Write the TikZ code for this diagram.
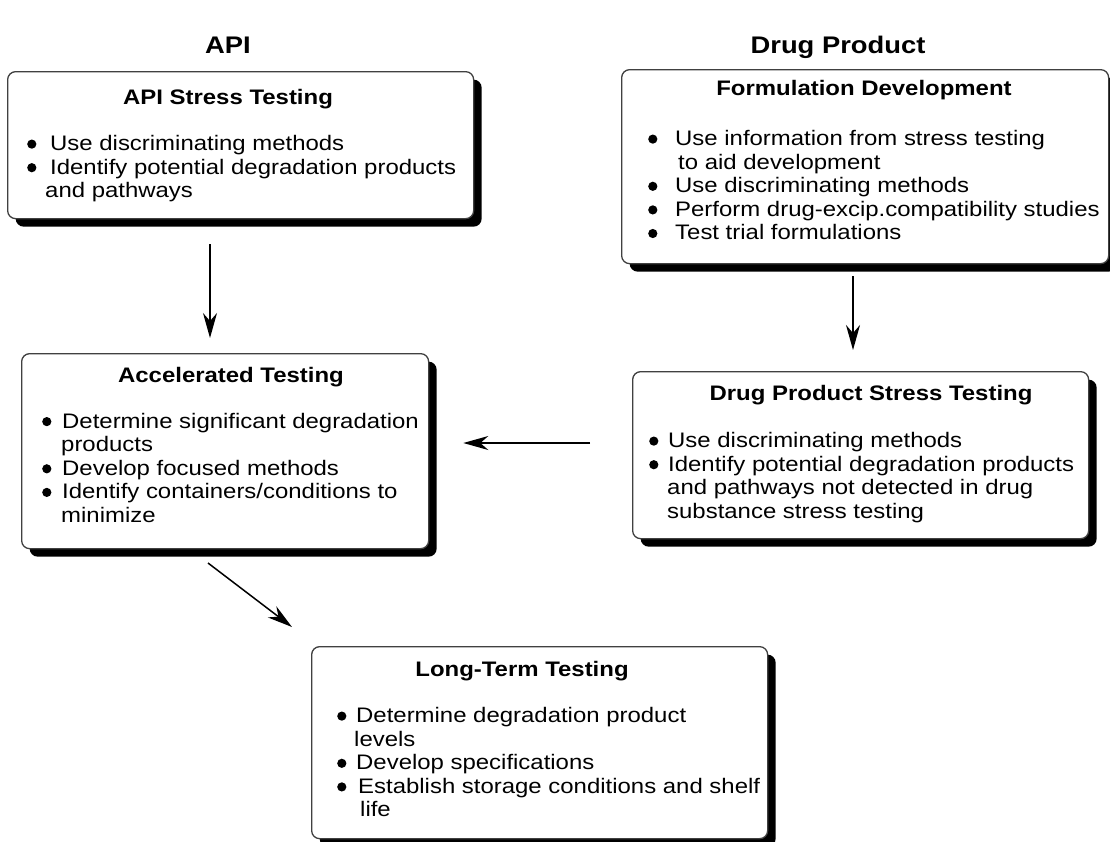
\documentclass[tikz,border=0pt]{standalone}
\usepackage{fontspec}
\setmainfont{Liberation Sans}[FakeStretch=1.14]
\usetikzlibrary{shadows,arrows.meta,calc}
\newcommand\mybul[1]{\makebox[#1][l]{\raisebox{1.8pt}{\tikz\fill[black] (0pt,0pt) circle[radius=4.6pt];}}}
\tikzset{
  box/.style={draw=black!75, line width=1.3pt, rounded corners=8pt, fill=white,
    anchor=north west, inner sep=0pt,
    drop shadow={shadow xshift=8pt, shadow yshift=-8pt, opacity=1, fill=black}},
  header/.style={font=\fontsize{24}{28}\selectfont\bfseries, anchor=base, inner sep=0pt},
  title/.style={font=\fontsize{21}{24}\selectfont\bfseries, anchor=base, inner sep=0pt},
  body/.style={font=\fontsize{21}{23.6}\selectfont, anchor=base west, align=left, inner sep=0pt},
  arr/.style={line width=1.5pt, -{Stealth[length=25pt,width=14pt,inset=8pt]}}
}
\begin{document}
\begin{tikzpicture}[x=1pt,y=-1pt]
\useasboundingbox (0,0) rectangle (1110,841);

% headers
\node[header] (hapi) at (228,53.5) {API};
\node[header] (hdp) at (838,53.5) {Drug Product};

% boxes
\node[box, minimum width=466pt, minimum height=147pt] (b1) at (7,71) {};
\node[box, minimum width=487pt, minimum height=194pt] (b2) at (621,69) {};
\node[box, minimum width=407pt, minimum height=195pt] (b3) at (21,353) {};
\node[box, minimum width=456pt, minimum height=167pt] (b4) at (632,371) {};
\node[box, minimum width=456pt, minimum height=192pt] (b5) at (311,646) {};

% box 1 (anchor = baseline of the last line)
\node[title] (t1) at (228,104.5) {API Stress Testing};
\node[body] (l1) at (27,197.7) {\mybul{23pt}Use discriminating methods\\
\mybul{23pt}Identify potential degradation products\\
\hspace*{18pt}and pathways};

% box 2
\node[title] (t2) at (864,95.5) {Formulation Development};
\node[body] (l2) at (648,239.9) {\mybul{27pt}Use information from stress testing\\
\hspace*{30pt}to aid development\\
\mybul{27pt}Use discriminating methods\\
\mybul{27pt}Perform drug-excip.compatibility studies\\
\mybul{27pt}Test trial formulations};

% box 3
\node[title] (t3) at (231,382.5) {Accelerated Testing};
\node[body] (l3) at (42,522.4) {\mybul{20pt}Determine significant degradation\\
\hspace*{19pt}products\\
\mybul{20pt}Develop focused methods\\
\mybul{20pt}Identify containers/conditions to\\
\hspace*{19pt}minimize};

% box 4
\node[title] (t4) at (871,400.5) {Drug Product Stress Testing};
\node[body] (l4) at (649,518.3) {\mybul{19pt}Use discriminating methods\\
\mybul{19pt}Identify potential degradation products\\
\hspace*{18pt}and pathways not detected in drug\\
\hspace*{18pt}substance stress testing};

% box 5
\node[title] (t5) at (522,676.5) {Long-Term Testing};
\node[body] (l5) at (337,816.9) {\mybul{19pt}Determine degradation product\\
\hspace*{17pt}levels\\
\mybul{19pt}Develop specifications\\
\mybul{21pt}Establish storage conditions and shelf\\
\hspace*{23pt}life};

% arrows
\coordinate (a1x) at (210,0);
\coordinate (a2x) at (853,0);
\coordinate (a3y) at (0,443);
\coordinate (a4s) at (208,563);
\coordinate (a4e) at (292,627);
\draw[arr, shorten <=25pt, shorten >=15pt] (b1.south -| a1x) -- (b3.north -| a1x);
\draw[arr, shorten <=12pt, shorten >=21pt] (b2.south -| a2x) -- (b4.north -| a2x);
\draw[arr, shorten <=42pt, shorten >=34pt] (b4.west |- a3y) -- (b3.east |- a3y);
\draw[arr] (a4s) -- (a4e);
\end{tikzpicture}
\end{document}
